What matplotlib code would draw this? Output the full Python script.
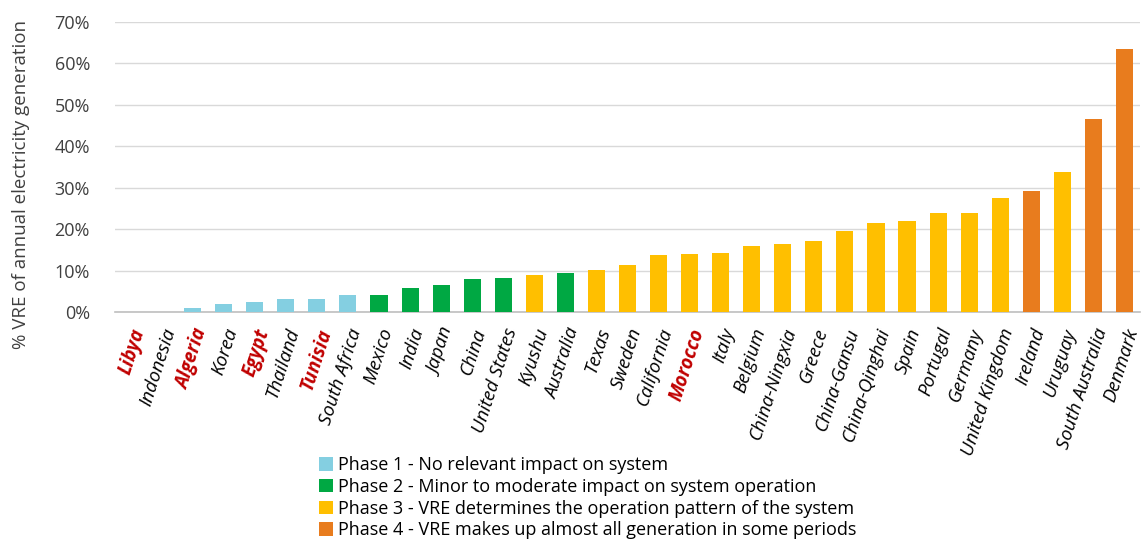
import numpy as np
import matplotlib.pyplot as plt
from matplotlib.patches import Patch

plt.rcParams['font.family'] = ['Open Sans', 'DejaVu Sans']

# Data
countries = ['Libya', 'Indonesia', 'Algeria', 'Korea', 'Egypt', 'Thailand', 'Tunisia',
             'South Africa', 'Mexico', 'India', 'Japan', 'China', 'United States', 'Kyushu',
             'Australia', 'Texas', 'Sweden', 'California', 'Morocco', 'Italy', 'Belgium',
             'China-Ningxia', 'Greece', 'China-Gansu', 'China-Qinghai', 'Spain', 'Portugal',
             'Germany', 'United Kingdom', 'Ireland', 'Uruguay', 'South Australia', 'Denmark']
vre_share = [0.0, 0.05, 1.0, 2.0, 2.5, 3.1, 3.2, 4.1, 4.2, 5.7, 6.6, 8.0, 8.3, 9.0,
             9.5, 10.1, 11.4, 13.8, 14.0, 14.3, 16.0, 16.4, 17.2, 19.5, 21.4, 21.9, 24.0,
             24.0, 27.4, 29.1, 33.7, 46.5, 63.4]
phases = [1, 1, 1, 1, 1, 1, 1, 1, 2, 2, 2, 2, 2, 3,
          2, 3, 3, 3, 3, 3, 3, 3, 3, 3, 3, 3, 3,
          3, 3, 4, 3, 4, 4]
highlighted = ['Libya', 'Algeria', 'Egypt', 'Tunisia', 'Morocco']

phase_colors = {1: '#84cfe1', 2: '#00a843', 3: '#ffbf00', 4: '#e87c1e'}
phase_labels = {1: 'Phase 1 - No relevant impact on system',
                2: 'Phase 2 - Minor to moderate impact on system operation',
                3: 'Phase 3 - VRE determines the operation pattern of the system',
                4: 'Phase 4 - VRE makes up almost all generation in some periods'}

fig = plt.figure(figsize=(11.44, 5.42), dpi=100)
ax = fig.add_axes([0.1005, 0.4244, 0.896, 0.535])

x = np.arange(len(countries))
ax.bar(x, vre_share, width=0.55, color=[phase_colors[p] for p in phases], zorder=3)

ax.set_xlim(-0.5, len(countries) - 0.5)
ax.set_ylim(0, 70)
ax.set_yticks(range(0, 71, 10))
ax.set_yticklabels([f'{v}%' for v in range(0, 71, 10)], fontsize=13, color='#404040')
ax.grid(axis='y', color='#d9d9d9', linewidth=1, zorder=0)
ax.tick_params(axis='both', length=0)
ax.tick_params(axis='y', pad=18)
ax.tick_params(axis='x', pad=10)
for s in ['top', 'right', 'left']:
    ax.spines[s].set_visible(False)
ax.spines['bottom'].set_color('#bfbfbf')
ax.spines['bottom'].set_linewidth(1.2)

ax.set_xticks(x)
ax.set_xticklabels(countries, rotation=72, ha='right', rotation_mode='anchor',
                   fontsize=13.5, style='italic')
for lbl in ax.get_xticklabels():
    if lbl.get_text() in highlighted:
        lbl.set_color('#c00000')
        lbl.set_fontweight('bold')

ax.set_ylabel('% VRE of annual electricity generation', fontsize=13.5, color='#404040')
ax.yaxis.set_label_coords(-0.083, 0.44)

# Legend
handles = [Patch(facecolor=phase_colors[p], label=phase_labels[p]) for p in [1, 2, 3, 4]]
fig.legend(handles=handles, loc='upper left', bbox_to_anchor=(0.279, 0.158),
           frameon=False, fontsize=13, handlelength=0.75, handleheight=0.75,
           handletextpad=0.3, labelspacing=0.2, borderpad=0, borderaxespad=0)

plt.savefig('out.png', dpi=100)
